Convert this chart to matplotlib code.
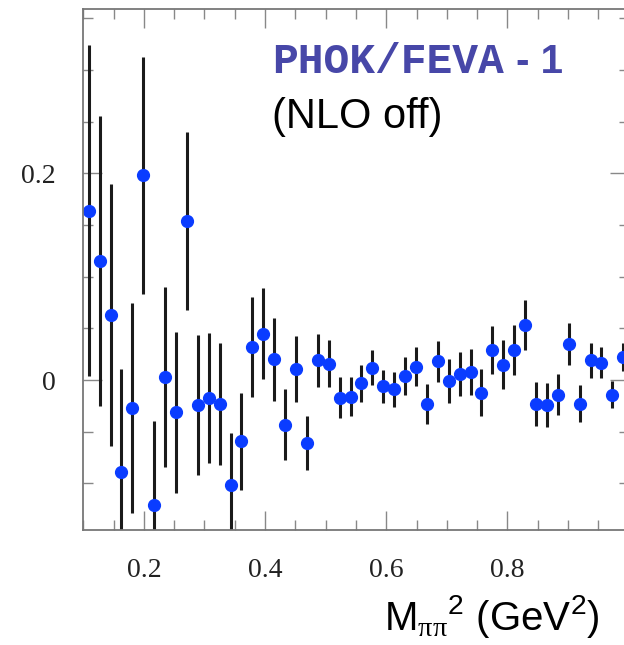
import numpy as np
import matplotlib
matplotlib.use('Agg')
import matplotlib.pyplot as plt
from matplotlib.ticker import MultipleLocator, FuncFormatter

# bin centres of M_pipi^2 (GeV^2)
m2 = [0.109, 0.127, 0.145, 0.163, 0.181, 0.199, 0.217, 0.235, 0.253, 0.271,
      0.289, 0.307, 0.325, 0.343, 0.361, 0.379, 0.397, 0.415, 0.433, 0.451,
      0.469, 0.487, 0.505, 0.523, 0.541, 0.559, 0.577, 0.595, 0.613, 0.631,
      0.649, 0.667, 0.685, 0.703, 0.721, 0.739, 0.757, 0.775, 0.793, 0.811,
      0.829, 0.847, 0.865, 0.883, 0.901, 0.919, 0.937, 0.955, 0.973, 0.991]

# PHOK/FEVA - 1
ratio = [0.164, 0.115, 0.063, -0.089, -0.027, 0.198, -0.121, 0.003, -0.031, 0.154,
         -0.024, -0.017, -0.023, -0.101, -0.059, 0.032, 0.045, 0.020, -0.043, 0.011,
         -0.061, 0.019, 0.016, -0.017, -0.016, -0.003, 0.012, -0.006, -0.009, 0.004,
         0.013, -0.023, 0.018, -0.001, 0.006, 0.008, -0.012, 0.029, 0.015, 0.029,
         0.053, -0.023, -0.024, -0.014, 0.035, -0.023, 0.019, 0.017, -0.014, 0.022]

err = [0.160, 0.140, 0.127, 0.100, 0.102, 0.115, 0.081, 0.087, 0.078, 0.086,
       0.068, 0.063, 0.059, 0.050, 0.047, 0.048, 0.044, 0.040, 0.034, 0.032,
       0.026, 0.026, 0.023, 0.020, 0.019, 0.018, 0.017, 0.016, 0.017, 0.018,
       0.019, 0.019, 0.020, 0.021, 0.0215, 0.022, 0.0225, 0.023, 0.0235, 0.024,
       0.024, 0.0215, 0.021, 0.020, 0.020, 0.018, 0.017, 0.015, 0.013, 0.0135]

plt.rcParams['mathtext.fontset'] = 'custom'
plt.rcParams['mathtext.rm'] = 'Liberation Serif'
plt.rcParams['mathtext.sf'] = 'Liberation Sans'

fig = plt.figure(figsize=(6.24, 6.45), dpi=100)
# right spine sits just outside the picture, like the cropped original
ax = fig.add_axes([0.1335, 0.1783, 0.874, 0.8078])

ax.errorbar(m2, ratio, yerr=err, fmt='o', color='#0a3cff', markersize=8.5,
            ecolor='#1a1a1a', elinewidth=2.2, capsize=0)

ax.set_xlim(0.1, 1.0)
ax.set_ylim(-0.145, 0.359)

ax.xaxis.set_major_locator(MultipleLocator(0.2))
ax.xaxis.set_minor_locator(MultipleLocator(0.05))
ax.yaxis.set_major_locator(MultipleLocator(0.2))
ax.yaxis.set_minor_locator(MultipleLocator(0.05))


def tick_fmt(v, pos):
    if abs(v) < 1e-9:
        return '0'
    if v > 0.95:
        # the 1.0 label falls off the cropped edge
        return ''
    return '%.1f' % v


ax.xaxis.set_major_formatter(FuncFormatter(tick_fmt))
ax.yaxis.set_major_formatter(FuncFormatter(tick_fmt))

ax.tick_params(which='both', direction='in', top=True, right=True,
               color='#888888', width=1.0)
ax.tick_params(which='major', length=14)
ax.tick_params(which='minor', length=7)
ax.tick_params(axis='y', which='major', pad=20)
ax.tick_params(axis='x', which='major', pad=20)
for lab in ax.get_xticklabels() + ax.get_yticklabels():
    lab.set_fontfamily('Liberation Serif')
    lab.set_fontsize(20)
    lab.set_color('#222222')

for sp in ax.spines.values():
    sp.set_color('#777777')
    sp.set_linewidth(1.3)

# axis title, right aligned under the plot
ax.set_xlabel(r'M$_{\mathrm{\pi\pi}}$$^{\mathsf{2}}$ (GeV$^{\mathsf{2}}$)',
              fontsize=29, fontfamily='Liberation Sans', ha='right')
ax.xaxis.label.set_va('baseline')
ax.xaxis.set_label_coords(0.9474, -0.192)

# annotation
fig.text(272 / 624, 1 - 73 / 645, 'PHOK/FEVA', fontsize=31, fontweight='bold',
         fontfamily='Liberation Mono', color='#4747a8', va='baseline')
fig.text(516 / 624, 1 - 73 / 645, '- 1', fontsize=29, fontweight='bold',
         fontfamily='Liberation Sans', color='#4747a8', va='baseline')
fig.text(272 / 624, 1 - 128 / 645, '(NLO off)', fontsize=30,
         fontfamily='Liberation Sans', color='black', va='baseline')

fig.savefig('out.png', dpi=100)
